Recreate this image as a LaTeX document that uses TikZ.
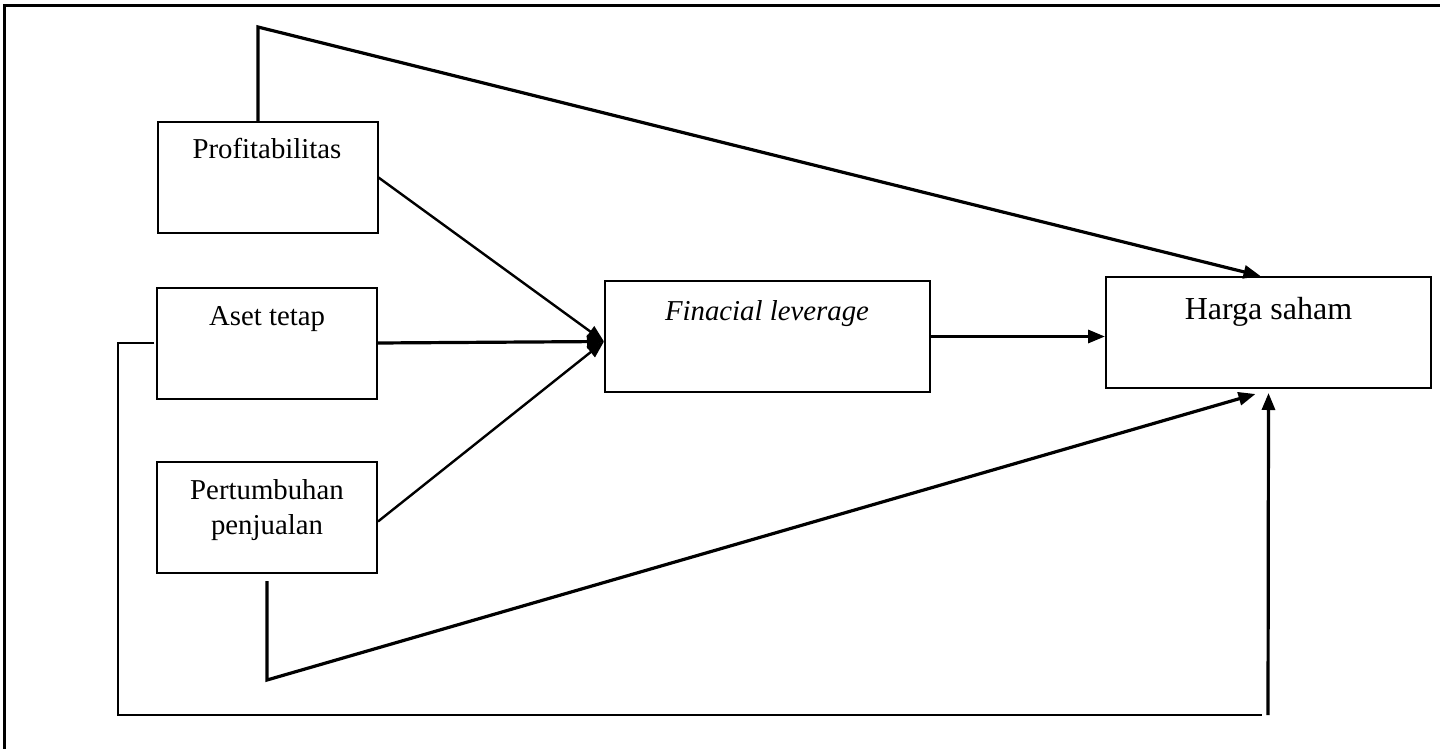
\documentclass[tikz,border=0pt]{standalone}
\usepackage{fontspec}
\setmainfont{Liberation Serif}
\usetikzlibrary{arrows.meta,calc}
\begin{document}
\begin{tikzpicture}[x=0.5pt,y=-0.5pt,
  box/.style={draw, line width=1pt, minimum width=#1, minimum height=55.5pt, inner sep=0pt},
  box/.default=110pt,
  txt/.style={font=\fontsize{14.4}{17.5}\selectfont, anchor=base, align=center, inner sep=0pt},
  conn/.style={line width=1.6pt, -{Triangle[length=8.5pt,width=6.5pt]}},
  thinconn/.style={line width=1.2pt, -{Triangle[length=8.5pt,width=6.5pt]}},
  plain/.style={line width=1.3pt}]
\useasboundingbox (0,0) rectangle (1440,749);
% frame
\coordinate (fr1) at (1440,6);
\coordinate (fr2) at (4,6);
\coordinate (fr3) at (4,749);
\draw[line width=1.5pt] (fr1) -- (fr2) -- (fr3);
% boxes
\node[box] (P) at (267.5,177.5) {};
\node[box] (A) at (267,343) {};
\node[box] (G) at (267,517.5) {};
\node[box=162.5pt] (F) at (767.5,336.5) {};
\node[box=162.5pt] (H) at (1268.5,332.5) {};
% texts
\node[txt] (tP) at (267,158) {Profitabilitas};
\node[txt] (tA) at (267,325) {Aset tetap};
\node[txt] (tG) at (267,534) {Pertumbuhan\\penjualan};
\node[txt] (tF) at (767,320) {\itshape Finacial leverage};
\node[txt, font=\fontsize{16}{19}\selectfont] (tH) at (1268.5,319) {Harga saham};
% top connector
\coordinate (k1) at (258,27);
\draw[conn] (P.north -| k1) -- (k1) -- ($(H.north)+(-8,0)$);
% to Finacial leverage
\draw[thinconn] (P.east) -- ($(F.west)+(0,5)$);
\draw[conn] (A.east) -- ($(F.west)+(0,5)$);
\draw[thinconn] ($(G.east)+(0,4)$) -- ($(F.west)+(0,5)$);
% F to H
\draw[conn] (F.east) -- (F.east -| H.west);
% bottom path from Pertumbuhan
\coordinate (g1) at (267,581);
\coordinate (g2) at (267,680);
\draw[conn] (g1) -- (g2) -- ($(H.south)+(-13,5)$);
% loop from Aset tetap
\coordinate (L1) at (118,715);
\coordinate (L2) at (1262,715);
\draw[line width=1.2pt] ($(A.west)+(-2,0)$) -- (A.west -| L1) -- (L1) -- (L2);
\coordinate (v1) at (1268,715);
\draw[conn] (v1) -- ($(H.south)+(0,4)$);
\end{tikzpicture}
\end{document}
